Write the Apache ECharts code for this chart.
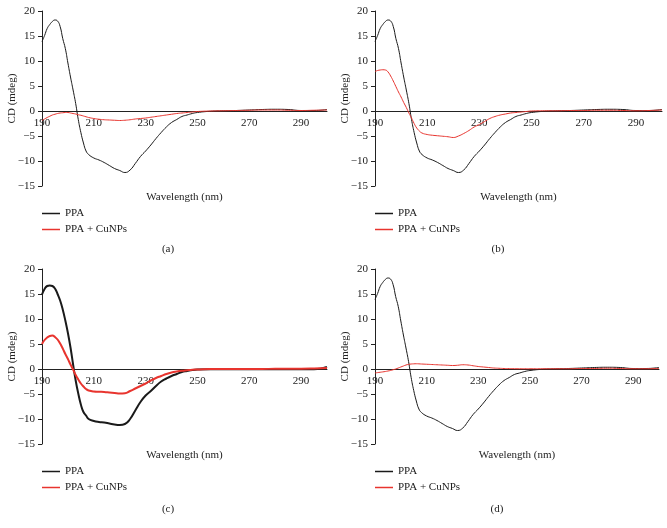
<!DOCTYPE html>
<html><head><meta charset="utf-8">
<script src="https://cdn.jsdelivr.net/npm/echarts@6/dist/echarts.min.js"></script>
<style>html,body{margin:0;padding:0;background:#fff}#c{width:667px;height:528px}</style>
</head><body><div id="c"></div>
<script>
// Shared wavelength grid (nm)
const wl = [190,191,192,193,194,195,196,197,198,199,200,201,202,203,204,205,206,207,208,210,212,214,216,218,220,222,224,226,228,230,232,234,236,238,240,242,244,246,248,250,255,260,265,270,275,280,285,290,295,300];
// PPA reference spectrum (panels a, b, d)
const cdPPA = [13.9,15.1,16.5,17.3,17.9,18.2,18.0,16.9,14.5,12.5,9.6,6.8,4.2,1.5,-1.7,-4.3,-6.4,-8.0,-8.7,-9.4,-9.8,-10.3,-10.9,-11.5,-11.9,-12.3,-11.8,-10.5,-9.1,-8.0,-6.8,-5.5,-4.3,-3.2,-2.3,-1.7,-1.1,-0.8,-0.5,-0.3,-0.05,0.05,0.1,0.2,0.3,0.35,0.3,0.1,0.1,0.3];
// panel a: PPA + CuNPs
const cdA = [-1.9,-1.6,-1.3,-1.05,-0.8,-0.65,-0.5,-0.4,-0.35,-0.3,-0.3,-0.4,-0.5,-0.6,-0.75,-0.85,-1.0,-1.15,-1.3,-1.5,-1.65,-1.75,-1.8,-1.85,-1.9,-1.85,-1.75,-1.6,-1.5,-1.4,-1.25,-1.1,-0.95,-0.8,-0.65,-0.5,-0.4,-0.3,-0.2,-0.1,0,0.05,0.1,0.15,0.2,0.2,0.15,0.1,0.15,0.2];
// panel b: PPA + CuNPs
const cdB = [7.9,8.1,8.2,8.25,8.2,7.8,7.0,6.0,4.9,3.8,2.8,1.7,0.7,-0.4,-1.4,-2.5,-3.4,-4.0,-4.4,-4.7,-4.85,-4.95,-5.05,-5.15,-5.3,-5.0,-4.5,-3.9,-3.2,-2.7,-2.1,-1.5,-1.1,-0.8,-0.6,-0.4,-0.3,-0.2,-0.1,0,0.05,0.05,0.1,0.1,0.15,0.15,0.1,0.05,0.1,0.2];
// panel c: PPA and PPA + CuNPs
const cdC1 = [14.9,16.0,16.6,16.7,16.6,16.1,15.0,13.7,11.9,9.7,7.2,4.3,0.9,-2.3,-4.9,-7.1,-8.6,-9.3,-10.0,-10.4,-10.6,-10.7,-10.9,-11.1,-11.2,-11.0,-10.0,-8.3,-6.6,-5.3,-4.4,-3.4,-2.5,-1.9,-1.4,-1.0,-0.6,-0.4,-0.2,-0.1,-0.05,-0.05,-0.05,-0.05,-0.05,-0.05,-0.05,-0.05,-0.05,0.4];
const cdC2 = [5.0,5.8,6.3,6.6,6.7,6.4,5.9,5.1,4.1,3.0,2.0,0.9,-0.1,-1.2,-2.1,-2.9,-3.5,-4.0,-4.3,-4.5,-4.55,-4.6,-4.7,-4.8,-4.9,-4.85,-4.4,-3.9,-3.4,-2.9,-2.3,-1.8,-1.4,-1.0,-0.7,-0.5,-0.35,-0.25,-0.15,-0.1,0,0,0,0,0,0.05,0.05,0.05,0.1,0.2];
// panel d: PPA + CuNPs
const cdD = [-0.8,-0.72,-0.65,-0.58,-0.5,-0.4,-0.3,-0.15,0.0,0.2,0.4,0.6,0.8,0.92,1.0,1.03,1.05,1.03,1.0,0.95,0.9,0.85,0.8,0.75,0.7,0.75,0.85,0.8,0.65,0.5,0.4,0.3,0.2,0.15,0.1,0.08,0.06,0.05,0.05,0.05,0.05,0.05,0.05,0.1,0.1,0.15,0.1,0.05,0.05,0.1];

const seriesNames = ['PPA', 'PPA + CuNPs'];
const panelLabels = ['(a)', '(b)', '(c)', '(d)'];
const xTitle = 'Wavelength (nm)';
const yTitle = 'CD (mdeg)';

const zip = (x, y) => x.map((v, i) => [v, y[i]]);
const FONT = '"Liberation Serif", "DejaVu Serif", serif';
const BLACK = '#1a1a1a', RED = '#e8342e';

const grids = [
  {left: 42, top: 11, width: 285, height: 175},
  {left: 375, top: 11, width: 287, height: 175},
  {left: 42, top: 269, width: 285, height: 175},
  {left: 375, top: 269, width: 284, height: 175}
];
const labelPos = [[168, 244], [498, 244], [168, 504], [497, 504]];
const panels = [
  [cdPPA, cdA, 1],
  [cdPPA, cdB, 1],
  [cdC1, cdC2, 2],
  [cdPPA, cdD, 1]
];

const xAxes = [], yAxes = [], series = [], legends = [], titles = [];
grids.forEach((g, i) => {
  xAxes.push({
    gridIndex: i, type: 'value', min: 190, max: 300, interval: 20,
    position: 'bottom', offset: -75,
    axisLine: {onZero: false, lineStyle: {color: '#222', width: 1}},
    axisTick: {show: false},
    splitLine: {show: false},
    axisLabel: {showMaxLabel: false, color: '#222', fontFamily: FONT, fontSize: 11, margin: 7},
    name: xTitle, nameLocation: 'middle', nameGap: 81, nameMoveOverlap: false,
    nameTextStyle: {color: '#222', fontFamily: FONT, fontSize: 11}
  });
  yAxes.push({
    gridIndex: i, type: 'value', min: -15, max: 20, interval: 5,
    axisLine: {show: true, onZero: false, lineStyle: {color: '#222', width: 1}},
    axisTick: {show: true, length: 4, lineStyle: {color: '#222'}},
    splitLine: {show: false},
    axisLabel: {color: '#222', fontFamily: FONT, fontSize: 11, margin: 7,
      formatter: v => v < 0 ? '\u2212' + (-v) : String(v)},
    name: yTitle, nameLocation: 'middle', nameGap: 24, nameRotate: 90, nameMoveOverlap: false,
    nameTextStyle: {color: '#222', fontFamily: FONT, fontSize: 11}
  });
  const [y1, y2, w] = panels[i];
  series.push({name: seriesNames[0], type: 'line', xAxisIndex: i, yAxisIndex: i, data: zip(wl, y1),
    smooth: 0.5, showSymbol: false, symbol: 'none', color: BLACK, lineStyle: {color: BLACK, width: w}, z: 2});
  series.push({name: seriesNames[1], type: 'line', xAxisIndex: i, yAxisIndex: i, data: zip(wl, y2),
    smooth: 0.5, showSymbol: false, symbol: 'none', color: RED, lineStyle: {color: RED, width: w}, z: 3});
  legends.push({
    data: seriesNames, orient: 'vertical', left: g.left, top: g.top + 196, padding: 0,
    icon: 'rect', itemWidth: 18, itemHeight: 1.5, itemGap: 3,
    textStyle: {color: '#222', fontFamily: FONT, fontSize: 11, lineHeight: 13},
    selectedMode: false
  });
  titles.push({
    text: panelLabels[i], left: labelPos[i][0], top: labelPos[i][1], padding: 0,
    textAlign: 'center',
    textStyle: {color: '#222', fontFamily: FONT, fontSize: 11, fontWeight: 'normal'}
  });
});

const chart = echarts.init(document.getElementById('c'), null, {renderer: 'canvas'});
chart.setOption({
  animation: false,
  backgroundColor: '#fff',
  title: titles,
  legend: legends,
  grid: grids,
  xAxis: xAxes,
  yAxis: yAxes,
  series: series
});
</script></body></html>
